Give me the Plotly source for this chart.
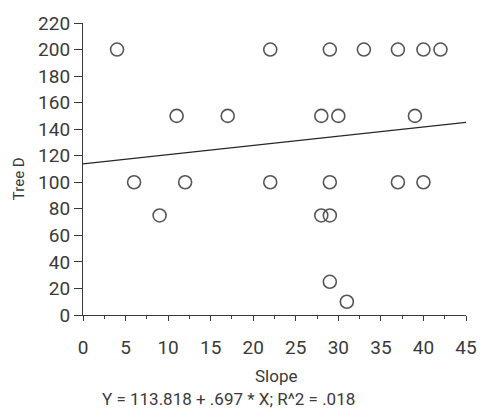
import plotly.graph_objects as go

# Slope vs. tree diameter observations
slope = [4, 6, 9, 11, 12, 17, 22, 22, 28, 29, 30, 29, 28, 29, 29, 31, 33, 37, 37, 40, 42, 39, 40]
tree_d = [200, 100, 75, 150, 100, 150, 200, 100, 150, 200, 150, 100, 75, 75, 25, 10, 200, 200, 100, 200, 200, 150, 100]

# Least-squares fit reported in the caption
intercept = 113.818
coef = 0.697
r2 = 0.018
fit_x = [0, 45]
fit_y = [intercept + coef * v for v in fit_x]

x_ticks = [0, 5, 10, 15, 20, 25, 30, 35, 40, 45]
y_ticks = [0, 20, 40, 60, 80, 100, 120, 140, 160, 180, 200, 220]

FONT = "Roboto, sans-serif"
INK = "#3a3a3a"

fig = go.Figure()
fig.add_trace(go.Scatter(
    x=fit_x, y=fit_y, mode="lines",
    line=dict(color="#262626", width=1.3),
    hoverinfo="skip", showlegend=False,
))
fig.add_trace(go.Scatter(
    x=slope, y=tree_d, mode="markers",
    marker=dict(symbol="circle-open", size=13, color="#555555", line=dict(width=1.6)),
    showlegend=False,
))

fig.update_layout(
    width=489, height=418,
    margin=dict(l=83, r=14, t=16, b=103),
    paper_bgcolor="white", plot_bgcolor="white",
    font=dict(family=FONT, color=INK, size=19),
    xaxis=dict(
        range=[0, 45], tickvals=x_ticks, ticktext=[str(v) for v in x_ticks],
        showline=True, linecolor=INK, linewidth=1.2,
        ticks="outside", ticklen=5, tickcolor=INK, tickwidth=1.2,
        minor=dict(dtick=2.5, tick0=0, ticks="outside", ticklen=3, tickcolor=INK, tickwidth=1),
        showgrid=False, zeroline=False, ticklabelstandoff=10,
        tickfont=dict(family=FONT, size=19, color=INK),
    ),
    yaxis=dict(
        range=[0, 220], tickvals=y_ticks, ticktext=[str(v) for v in y_ticks],
        showline=True, linecolor=INK, linewidth=1.2,
        ticks="outside", ticklen=8, tickcolor=INK, tickwidth=1.2,
        showgrid=False, zeroline=False,
        tickfont=dict(family=FONT, size=19, color=INK),
    ),
    annotations=[
        dict(text="Slope", xref="paper", yref="paper", x=0.505, y=-0.208,
             xanchor="center", yanchor="middle", showarrow=False,
             font=dict(family=FONT, size=17, color=INK)),
        dict(text=f"Y = {intercept} + .{int(round(coef * 1000))} * X; R^2 = .{int(round(r2 * 1000)):03d}",
             xref="paper", yref="paper", x=0.38, y=-0.287,
             xanchor="center", yanchor="middle", showarrow=False,
             font=dict(family=FONT, size=17, color=INK)),
        dict(text="Tree D", xref="paper", yref="paper", x=-0.165, y=0.468,
             xanchor="center", yanchor="middle", textangle=-90, showarrow=False,
             font=dict(family=FONT, size=15, color=INK)),
    ],
)

fig.write_html("out.html")
